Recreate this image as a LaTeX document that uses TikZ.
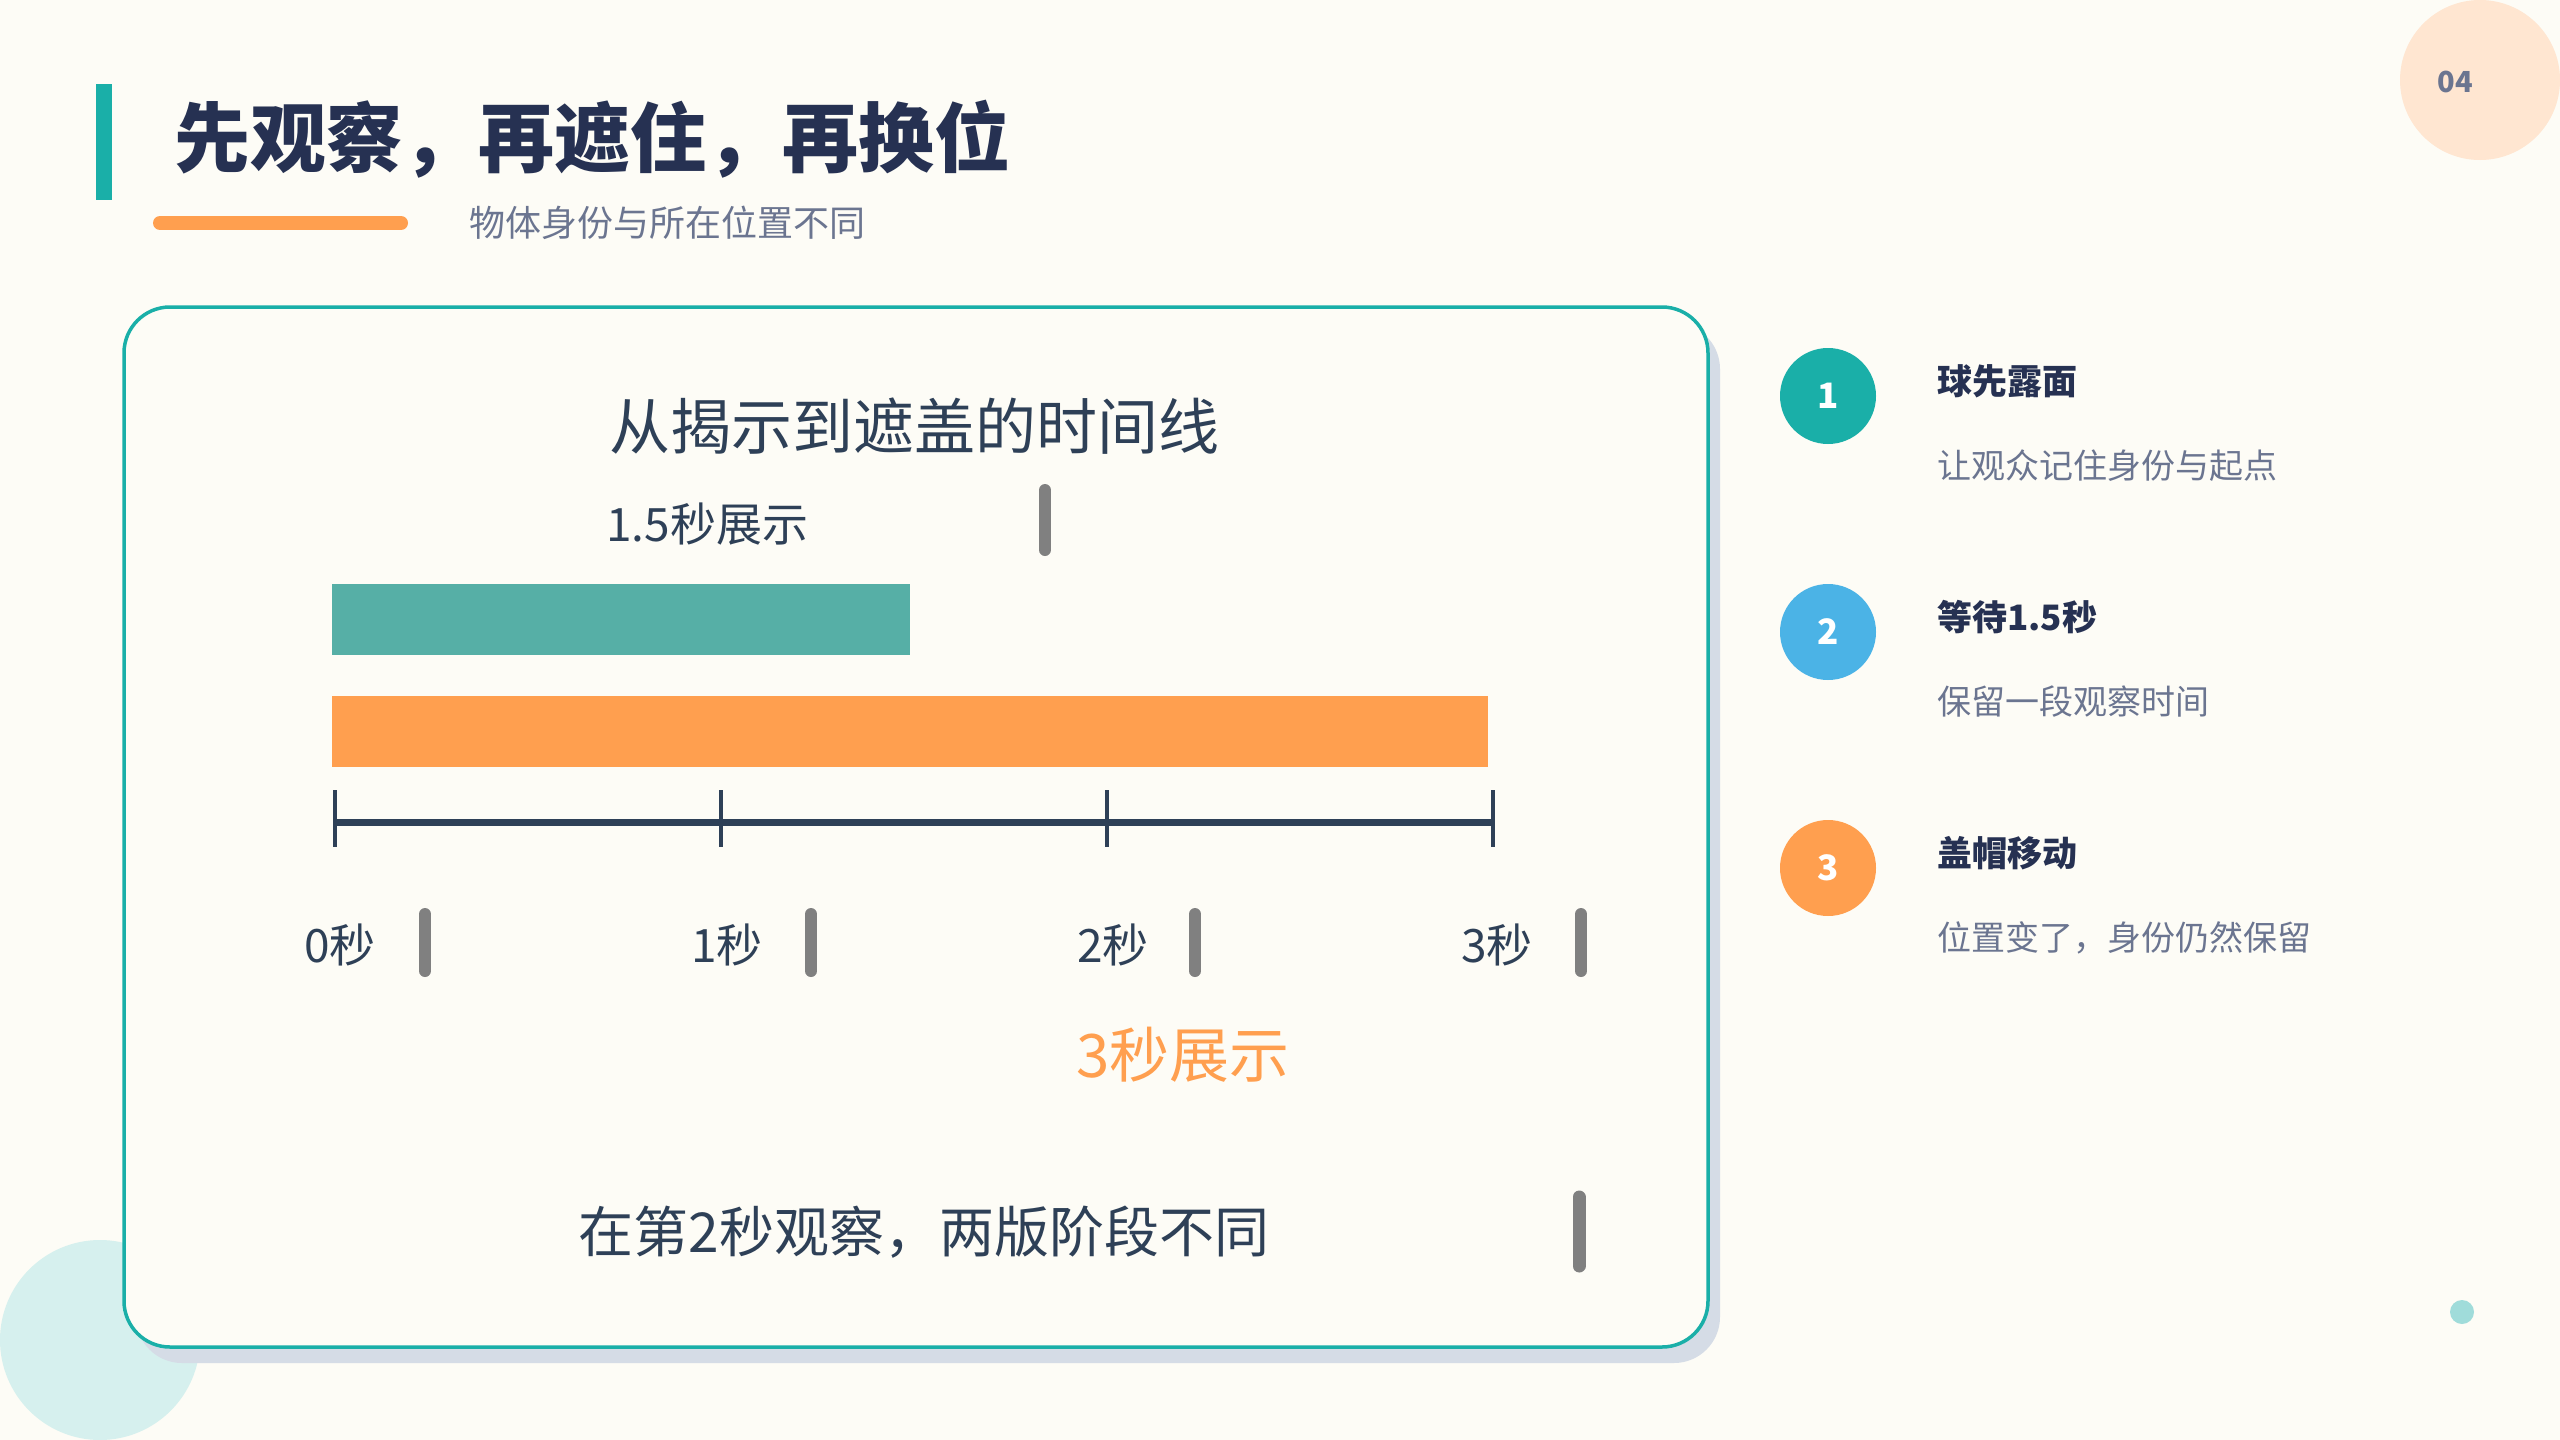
\documentclass[tikz,border=0pt]{standalone}
\usepackage{fontspec}
\setmainfont{Noto Sans CJK SC}
\usetikzlibrary{positioning}

\definecolor{bgcream}{HTML}{FDFCF6}
\definecolor{navy}{HTML}{263152}
\definecolor{slate}{HTML}{2E4057}
\definecolor{graytext}{HTML}{6B7590}
\definecolor{tealmain}{HTML}{1AAFA8}
\definecolor{tealbar}{HTML}{56AFA6}
\definecolor{orangemain}{HTML}{FF9F4F}
\definecolor{peach}{HTML}{FFE6D1}
\definecolor{skyblue}{HTML}{4BB3E6}
\definecolor{lightteal}{HTML}{D6F0EE}
\definecolor{dotteal}{HTML}{A0DCDA}
\definecolor{shadowgray}{HTML}{D5DCE6}
\definecolor{cursorgray}{HTML}{808080}

\newcommand\pxfont[1]{\fontsize{#1}{#1}\selectfont}

\begin{document}
\begin{tikzpicture}[x=1pt,y=-1pt,
  txt/.style={inner sep=0pt,text=slate},
  cursor/.style={draw=cursorgray,line width=12pt,line cap=round},
  badge/.style={circle,minimum size=96pt,inner sep=0pt,text=white,font=\pxfont{35}\bfseries},
  heading/.style={anchor=west,inner sep=0pt,text=navy,font=\pxfont{35}\bfseries},
  remark/.style={anchor=west,inner sep=0pt,text=graytext,font=\pxfont{34}}]
\useasboundingbox[fill=bgcream] (0,0) rectangle (2560,1440);

% Decorative circles
\fill[peach] (2480,80) circle (80pt);
\fill[lightteal] (100,1340) circle (100pt);
\fill[dotteal] (2462,1312) circle (12pt);
\node[inner sep=0pt,text=graytext,font=\pxfont{29}\bfseries] (pagenum) at (2455,82) {04};

% Title
\fill[tealmain] (96,84) rectangle (112,200);
\node[anchor=west,inner sep=0pt,text=navy,font=\pxfont{76}\bfseries] (title) at (174,139) {先观察，再遮住，再换位};
\draw[orangemain,line width=14pt,line cap=round] (160,223) -- (401,223);
\node[anchor=west,inner sep=0pt,text=graytext,font=\pxfont{36}] (subtitle) at (469,223) {物体身份与所在位置不同};

% Card
\fill[shadowgray,rounded corners=46pt] (136,323) rectangle (1720,1363);
\draw[tealmain,line width=3.5pt,fill=bgcream,rounded corners=46pt] (124,307) rectangle (1708,1347);
\node[txt,font=\pxfont{61}] (cardtitle) at (914,426) {从揭示到遮盖的时间线};

% Bars
\node[txt,anchor=west,font=\pxfont{46}] (shortlabel) at (606,524) {1.5秒展示};
\draw[cursor] (1045,490) -- (1045,550);
\fill[tealbar] (332,584) rectangle (910,655);
\fill[orangemain] (332,696) rectangle (1488,767);

% Time axis
\draw[slate,line width=7pt] (335,822) -- (1493,822);
\draw[slate,line width=3.5pt] (335,790) -- (335,847);
\draw[slate,line width=3.5pt] (721,790) -- (721,847);
\draw[slate,line width=3.5pt] (1107,790) -- (1107,847);
\draw[slate,line width=3.5pt] (1493,790) -- (1493,847);

% Axis labels
\node[txt,font=\pxfont{46}] (sec0) at (340,945) {0秒};
\node[txt,font=\pxfont{46}] (sec1) at (727,945) {1秒};
\node[txt,font=\pxfont{46}] (sec2) at (1113,945) {2秒};
\node[txt,font=\pxfont{46}] (sec3) at (1497,945) {3秒};
\draw[cursor] (425,914) -- (425,971);
\draw[cursor] (811,914) -- (811,971);
\draw[cursor] (1195,914) -- (1195,971);
\draw[cursor] (1581,914) -- (1581,971);

\node[txt,text=orangemain,font=\pxfont{60}] (longlabel) at (1183,1055) {3秒展示};

% Footnote
\node[txt,font=\pxfont{55}] (note) at (924,1232) {在第2秒观察，两版阶段不同};
\draw[cursor,line width=13pt] (1579,1197) -- (1579,1266);

% Steps
\node[badge,fill=tealmain] (step1) at (1828,396) {1};
\node[heading] (head1) at (1937,381) {球先露面};
\node[remark] (text1) at (1937,466) {让观众记住身份与起点};

\node[badge,fill=skyblue] (step2) at (1828,632) {2};
\node[heading] (head2) at (1937,617) {等待1.5秒};
\node[remark] (text2) at (1937,702) {保留一段观察时间};

\node[badge,fill=orangemain] (step3) at (1828,868) {3};
\node[heading] (head3) at (1937,853) {盖帽移动};
\node[remark] (text3) at (1937,938) {位置变了，身份仍然保留};

\end{tikzpicture}
\end{document}
